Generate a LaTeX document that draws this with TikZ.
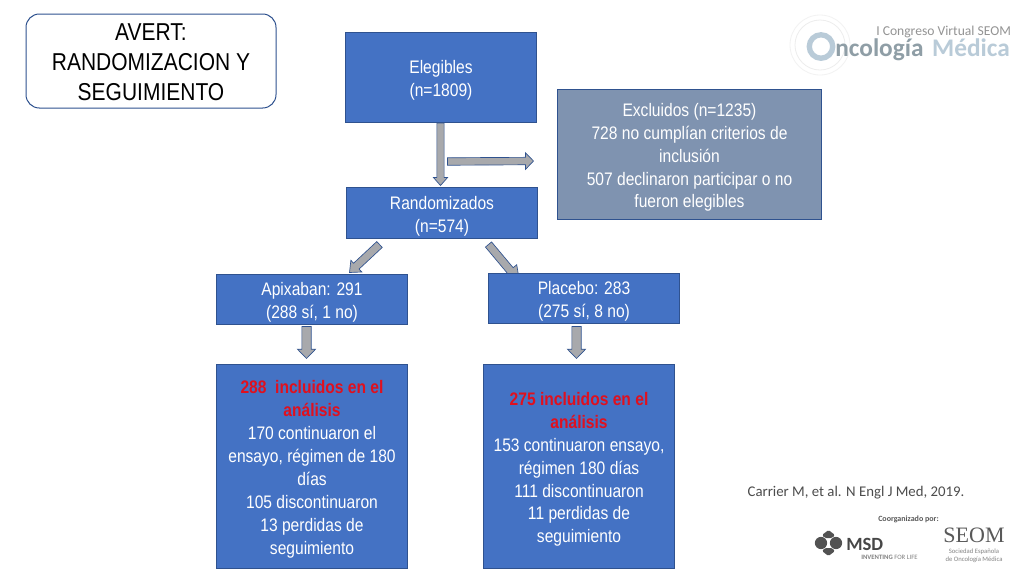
\documentclass[tikz,border=0pt]{standalone}
\usepackage{fontspec}
\setmainfont{Carlito}
\newfontfamily\narrowfont[FakeStretch=0.86]{Liberation Sans}
\newfontfamily\seomfont{Liberation Serif}
\usetikzlibrary{calc,backgrounds}
\definecolor{boxblue}{HTML}{4472C4}
\definecolor{boxedge}{HTML}{2F528F}
\definecolor{exfill}{HTML}{7F93B0}
\definecolor{arrowgray}{HTML}{A8A9AC}
\definecolor{alertred}{HTML}{E0101E}
\definecolor{logoblue}{HTML}{B9CBD8}
\definecolor{logotext}{HTML}{8F9EA6}
\newcommand{\up}{\rule{0pt}{14.2pt}}
\tikzset{
  bluebox/.style={draw=boxedge,line width=0.75pt,fill=boxblue,text=white,align=center,inner sep=0pt,font=\narrowfont\fontsize{13.6pt}{17.2pt}\selectfont},
  exbox/.style={bluebox,fill=exfill},
  titlebox/.style={draw=boxedge,line width=0.75pt,fill=white,rounded corners=10pt,text=black,align=center,inner sep=0pt,font=\narrowfont\fontsize{18.3pt}{22.5pt}\selectfont},
  blockarrow/.style={draw=boxedge,line width=0.5pt,fill=arrowgray,line join=miter}
}
% from, to, half shaft, half head, head length
\newcommand{\blockarr}[5]{%
  \coordinate (ba1) at #1; \coordinate (ba2) at #2;
  \coordinate (ban) at ($(ba2)!#5!(ba1)$);
  \draw[blockarrow] ($(ba1)!#3!90:(ba2)$) -- ($(ban)!#3!90:(ba2)$) -- ($(ban)!#4!90:(ba2)$) -- (ba2) -- ($(ban)!#4!-90:(ba2)$) -- ($(ban)!#3!-90:(ba2)$) -- ($(ba1)!#3!-90:(ba2)$) -- cycle;}
\begin{document}
\begin{tikzpicture}[x=0.75pt,y=-0.75pt]
\useasboundingbox (0,0) rectangle (1024,576);
\begin{scope}[on background layer]
\fill[white] (0,0) rectangle (1024,576);
\end{scope}

\node[titlebox,minimum width=187.5pt,minimum height=70.5pt] (title) at (151,61) {\rule{0pt}{15pt}AVERT:\\RANDOMIZACION Y\\SEGUIMIENTO};
\node[bluebox,minimum width=143.25pt,minimum height=67.5pt] (eleg) at (441,77.5) {\up Elegibles\\(n=1809)};
\node[exbox,minimum width=198pt,minimum height=97.5pt] (excl) at (689.5,154.5) {\up Excluidos (n=1235)\\728 no cumplían criterios de\\inclusión\\507 declinaron participar o no\\fueron elegibles};
\node[bluebox,minimum width=143.25pt,minimum height=38.25pt] (rand) at (442,213) {\up Randomizados\\(n=574)};
\node[bluebox,minimum width=143.25pt,minimum height=37.5pt] (apix) at (312,299.5) {\up Apixaban: 291\\(288 sí, 1 no)};
\node[bluebox,minimum width=143.25pt,minimum height=37.5pt] (plac) at (584,298.5) {\up Placebo: 283\\(275 sí, 8 no)};
\node[bluebox,minimum width=143.25pt,minimum height=153pt] (res1) at (312,466.5) {\up\textcolor{alertred}{\textbf{288\ \ incluidos en el}}\\\textcolor{alertred}{\textbf{análisis}}\\170 continuaron el\\ensayo, régimen de 180\\días\\105 discontinuaron\\13 perdidas de\\seguimiento};
\node[bluebox,minimum width=143.25pt,minimum height=153pt] (res2) at (579,466.5) {\up\textcolor{alertred}{\textbf{275 incluidos en el}}\\\textcolor{alertred}{\textbf{análisis}}\\153 continuaron ensayo,\\régimen 180 días\\111 discontinuaron\\11 perdidas de\\seguimiento};

\blockarr{($(eleg.south)+(-0.5,0)$)}{($(rand.north)+(-1.5,-1.5)$)}{2.7pt}{5.3pt}{6pt}
\blockarr{($(eleg.south)+(6.5,38.5)$)}{($(excl.west)+(-23.5,6.5)$)}{2.8pt}{6.2pt}{6pt}
\blockarr{($(rand.south)+(-62.5,5.5)$)}{($(apix.north)+(37.5,-1.5)$)}{3pt}{6pt}{7pt}
\begin{scope}[on background layer]
\blockarr{($(rand.south)+(46.5,5.5)$)}{($(plac.north)+(-64.5,8.5)$)}{3pt}{6.5pt}{11pt}
\end{scope}
\blockarr{($(apix.south)+(-5.5,1.5)$)}{($(res1.north)+(-5.5,-5.5)$)}{3.5pt}{6.8pt}{7pt}
\blockarr{($(plac.south)+(-7.5,2.5)$)}{($(res2.north)+(-2.5,-5.5)$)}{3.5pt}{6.8pt}{7pt}

\node[font=\fontsize{11.1pt}{13pt}\selectfont,text=black!70,anchor=center] (cite) at (856,493) {Carrier M, et al. N Engl J Med, 2019.};

% congress logo
\foreach \r/\c in {30/black!5,25/black!7}{\draw[\c,line width=0.6pt] (820,45) circle ({\r*0.75pt});}
\draw[logoblue,line width=4pt] (821,46.5) circle (8.8pt);
\node[font=\fontsize{10.2pt}{12pt}\selectfont,text=black!42,anchor=west,inner sep=0pt] (cong) at (876,32) {I Congreso Virtual SEOM};
\node[font=\bfseries\fontsize{19pt}{21pt}\selectfont,anchor=west,inner sep=0pt] (onco) at (835,50) {\textcolor{logotext}{ncología}\hspace{6.5pt}\textcolor{logoblue}{Médica}};

% sponsors
\node[font=\bfseries\fontsize{6pt}{7pt}\selectfont,text=black!65,inner sep=0pt] (coorg) at (908.5,519) {Coorganizado por:};
\fill[black!68] (821,543) circle (4.6pt);
\fill[black!68] (836,543) circle (4.6pt);
\fill[black!68,rounded corners=1pt] (822,535) -- (828.5,530) -- (835,535) -- (832,538) -- (825,538) -- cycle;
\fill[black!68,rounded corners=1pt] (822,551) -- (828.5,556) -- (835,551) -- (832,548) -- (825,548) -- cycle;
\node[font=\bfseries\fontsize{14pt}{15pt}\selectfont,text=black!72,anchor=west,inner sep=0pt] (msd) at (846,544) {MSD};
\node[font=\fontsize{5pt}{6pt}\selectfont,text=black!50,anchor=west,inner sep=0pt] (msdt) at (861,557) {\textbf{INVENTING} FOR LIFE};
\node[font=\seomfont\fontsize{16.5pt}{18pt}\selectfont,text=black!65,inner sep=0pt] (seom) at (974,535.5) {SEOM};
\node[font=\fontsize{5pt}{6pt}\selectfont,text=black!48,align=center,inner sep=0pt] (seomt) at (974,555.5) {Sociedad Española\\de Oncología Médica};
\end{tikzpicture}
\end{document}
